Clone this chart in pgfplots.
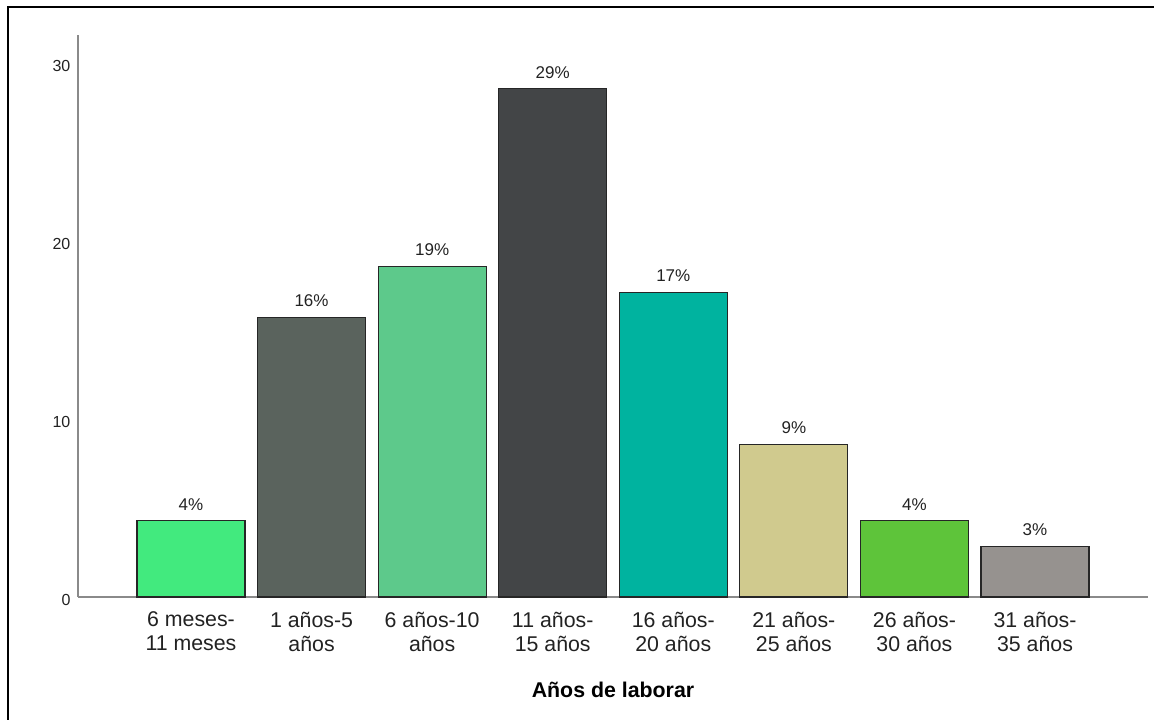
\documentclass[border=0pt]{standalone}
\usepackage{fontspec}
\setmainfont{Liberation Sans}
\usepackage{pgfplots}
\pgfplotsset{compat=1.18}

\definecolor{cA}{HTML}{42EA7E}
\definecolor{cB}{HTML}{5A635D}
\definecolor{cC}{HTML}{5DC98B}
\definecolor{cD}{HTML}{434547}
\definecolor{cE}{HTML}{00B39F}
\definecolor{cF}{HTML}{D0CA8E}
\definecolor{cG}{HTML}{5EC43A}
\definecolor{cH}{HTML}{96928F}
\definecolor{axisgray}{HTML}{8A8A8A}
\definecolor{txt}{HTML}{222222}

\begin{document}
\begin{tikzpicture}
\path[use as bounding box] (0,0) rectangle (865.5pt,539.25pt);
% outer frame (left and top edges)
\draw[black, line width=1.6pt] (6.2pt,-1pt) -- (6.2pt,534pt) -- (866.5pt,534pt);
\begin{axis}[
  at={(58.5pt,91.5pt)}, anchor=south west,
  scale only axis, width=802.5pt, height=421.5pt,
  xmin=-0.937, xmax=7.937, ymin=0, ymax=31.6,
  axis lines=left,
  axis line style={-, axisgray, line width=1.3pt},
  major tick length=0pt,
  ytick={0,10,20,30},
  xtick={0,...,7},
  xticklabels={{6 meses-\\11 meses},{1 años-5\\años},{6 años-10\\años},{11 años-\\15 años},{16 años-\\20 años},{21 años-\\25 años},{26 años-\\30 años},{31 años-\\35 años}},
  /pgf/number format/assume math mode=true,
  yticklabel style={font=\fontsize{12}{14}\selectfont, text=txt, anchor=east, inner sep=0pt, xshift=-5.5pt, yshift=-2pt},
  xticklabel style={font=\fontsize{16}{18}\selectfont, text=txt, align=center, anchor=north, inner sep=0pt, yshift=-11pt},
  xlabel={\textbf{Años de laborar}},
  xlabel style={font=\fontsize{16}{18}\selectfont, at={(axis description cs:0.5,0)}, anchor=center, yshift=-69.75pt},
  ybar, bar width=0.896, bar shift=0pt,
  every axis plot/.append style={draw=black!85, line width=0.9pt},
  nodes near coords={\pgfmathprintnumber[fixed,precision=0]{\pgfplotspointmeta}\%},
  every node near coord/.append style={font=\fontsize{12.75}{14}\selectfont, text=txt, anchor=south, inner sep=0pt, yshift=7.5pt},
  clip=false,
]
\addplot[fill=cA] coordinates {(0,4.29)};
\addplot[fill=cB] coordinates {(1,15.71)};
\addplot[fill=cC] coordinates {(2,18.57)};
\addplot[fill=cD] coordinates {(3,28.57)};
\addplot[fill=cE] coordinates {(4,17.14)};
\addplot[fill=cF] coordinates {(5,8.57)};
\addplot[fill=cG] coordinates {(6,4.29)};
\addplot[fill=cH] coordinates {(7,2.86)};
\end{axis}
\end{tikzpicture}
\end{document}
